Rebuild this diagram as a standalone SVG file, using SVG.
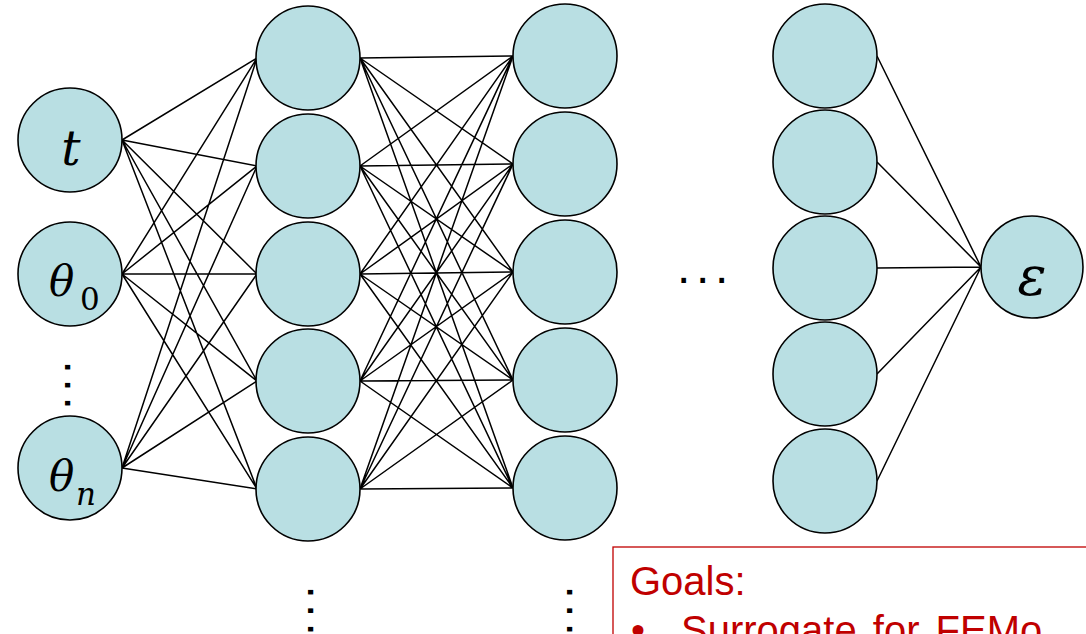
<svg xmlns="http://www.w3.org/2000/svg" width="1086" height="634" viewBox="0 0 1086 634">
<style>
.n{fill:#b9dfe3;stroke:#000;stroke-width:1.6}
.e{stroke:#000;stroke-width:1.5;fill:none}
.m{font-family:"DejaVu Serif","Liberation Serif",serif;font-style:italic;fill:#000}
.s{font-family:"DejaVu Serif","Liberation Serif",serif;fill:#000}
.d{font-family:"Liberation Sans",Arial,sans-serif;font-size:48px;fill:#000}
.g{font-family:"Liberation Sans",Arial,sans-serif;font-size:40px;fill:#c00000}
</style>
<rect width="1086" height="634" fill="#fff"/>
<g id="connectors">
<path class="e" d="M122,140L257,58M122,140L257,166M122,140L257,274M122,140L257,381M122,140L257,489
M122,274L257,58M122,274L257,166M122,274L257,274M122,274L257,381M122,274L257,489
M122,468L257,58M122,468L257,166M122,468L257,274M122,468L257,381M122,468L257,489"/>
<path class="e" d="M360,58L513,56M360,58L513,164M360,58L513,272M360,58L513,380M360,58L513,488
M360,166L513,56M360,166L513,164M360,166L513,272M360,166L513,380M360,166L513,488
M360,274L513,56M360,274L513,164M360,274L513,272M360,274L513,380M360,274L513,488
M360,381L513,56M360,381L513,164M360,381L513,272M360,381L513,380M360,381L513,488
M360,489L513,56M360,489L513,164M360,489L513,272M360,489L513,380M360,489L513,488"/>
<path class="e" d="M877,56L981,267M877,162L981,267M877,268L981,267M877,374L981,267M877,481L981,267"/>
</g>
<g id="input-t"><circle class="n" cx="70" cy="140" r="52"/><text class="m" x="71" y="165" font-size="48" text-anchor="middle">t</text></g>
<g id="input-theta0"><circle class="n" cx="70" cy="274" r="52"/><text class="m" x="49" y="296" font-size="42">θ</text><text class="s" x="80" y="310" font-size="31">0</text></g>
<g id="input-dots"><text class="d" transform="translate(64.6,360.5) rotate(90)" letter-spacing="4.7">...</text></g>
<g id="input-thetan"><circle class="n" cx="70" cy="468" r="52"/><text class="m" x="49" y="491" font-size="42">θ</text><text class="m" x="76" y="505" font-size="31">n</text></g>
<g id="h1-1"><circle class="n" cx="308" cy="58" r="52"/></g>
<g id="h1-2"><circle class="n" cx="308" cy="166" r="52"/></g>
<g id="h1-3"><circle class="n" cx="308" cy="274" r="52"/></g>
<g id="h1-4"><circle class="n" cx="308" cy="381" r="52"/></g>
<g id="h1-5"><circle class="n" cx="308" cy="489" r="52"/></g>
<g id="h1-dots"><text class="d" transform="translate(307.6,585.5) rotate(90)" letter-spacing="5.2">...</text></g>
<g id="h2-1"><circle class="n" cx="565" cy="56" r="52"/></g>
<g id="h2-2"><circle class="n" cx="565" cy="164" r="52"/></g>
<g id="h2-3"><circle class="n" cx="565" cy="272" r="52"/></g>
<g id="h2-4"><circle class="n" cx="565" cy="380" r="52"/></g>
<g id="h2-5"><circle class="n" cx="565" cy="488" r="52"/></g>
<g id="h2-dots"><text class="d" transform="translate(566.6,585.5) rotate(90)" letter-spacing="5.2">...</text></g>
<g id="layer-ellipsis"><text class="d" x="677" y="283" letter-spacing="5.7">...</text></g>
<g id="hk-1"><circle class="n" cx="825" cy="56" r="52"/></g>
<g id="hk-2"><circle class="n" cx="825" cy="162" r="52"/></g>
<g id="hk-3"><circle class="n" cx="825" cy="268" r="52"/></g>
<g id="hk-4"><circle class="n" cx="825" cy="374" r="52"/></g>
<g id="hk-5"><circle class="n" cx="825" cy="481" r="52"/></g>
<g id="output"><circle class="n" cx="1032" cy="267" r="51"/><text class="m" x="1032" y="295" font-size="54" text-anchor="middle">ε</text></g>
<g id="goals">
<rect x="613" y="547" width="500" height="200" fill="#fff" stroke="#c00000" stroke-width="1.3"/>
<text class="g" x="630" y="595">Goals:</text>
<text class="g" x="631" y="644">•</text>
<text class="g" x="681" y="644" word-spacing="5">Surrogate for FEMo</text>
</g>
</svg>
